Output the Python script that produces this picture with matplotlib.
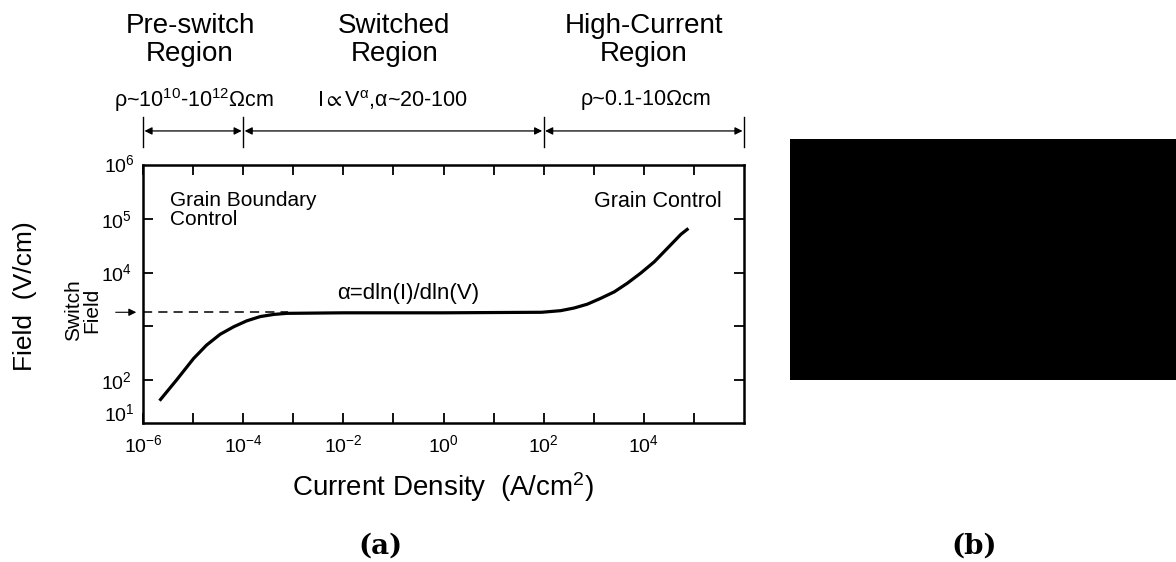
import matplotlib
matplotlib.use('Agg')
import matplotlib.pyplot as plt
import matplotlib.transforms as mtransforms
from matplotlib.patches import Rectangle
import numpy as np

plt.rcParams['font.family'] = ['Liberation Sans', 'DejaVu Sans']
plt.rcParams['mathtext.fontset'] = 'custom'
plt.rcParams['mathtext.rm'] = 'Liberation Sans'
plt.rcParams['mathtext.it'] = 'Liberation Sans:italic'
plt.rcParams['mathtext.default'] = 'regular'

# ── DATA (log10 values) ──────────────────────────────────────────────────────
curve_logx = [-5.67, -5.33, -4.99, -4.73, -4.46, -4.19, -3.93, -3.66, -3.39, -3.13,
              -2.0, 0.0, 1.96, 2.34, 2.61, 2.87, 3.14, 3.41, 3.67, 3.94,
              4.21, 4.47, 4.74, 4.89]
curve_logy = [1.615, 2.00, 2.40, 2.65, 2.85, 2.99, 3.10, 3.18, 3.22, 3.24,
              3.25, 3.25, 3.26, 3.29, 3.34, 3.41, 3.52, 3.64, 3.80, 3.99,
              4.20, 4.45, 4.71, 4.82]
switch_logy = 3.26
dash_logx = [-6.0, -3.1]

region_bounds = [-6, -4, 2, 6]
region_titles = ["Pre-switch\nRegion", "Switched\nRegion", "High-Current\nRegion"]
region_notes = [r"ρ~$10^{10}$-$10^{12}$Ωcm", r"I$\propto$$V^{α}$,α~20-100", "ρ~0.1-10Ωcm"]
region_title_x = [-5.06, -0.98, 4.0]
region_note_x = [-4.98, -1.02, 4.04]

xtick_pows = list(range(-6, 6))
xtick_labels = [r"$10^{%d}$" % p if (p % 2 == 0 and p <= 4) else "" for p in xtick_pows]
ytick_pows = [2, 3, 4, 5]
ytick_labels = [r"$10^{2}$", "", r"$10^{4}$", r"$10^{5}$"]

# ── FIGURE ───────────────────────────────────────────────────────────────────
fig = plt.figure(figsize=(11.76, 5.62), dpi=100)
ax = fig.add_axes([143/1176, 1 - 423/562, 601/1176, 258/562])

ax.plot(10**np.array(curve_logx), 10**np.array(curve_logy), color='black', lw=2.3,
        solid_capstyle='butt', solid_joinstyle='round')
ax.plot(10**np.array(dash_logx), [10**switch_logy]*2, color='black', lw=1.1,
        dashes=(6, 4))

ax.set_xscale('log')
ax.set_yscale('log')
ax.set_xlim(1e-6, 1e6)
ax.set_ylim(10**1.2, 1e6)
ax.minorticks_off()
ax.set_xticks([10.0**p for p in xtick_pows])
ax.set_xticklabels(xtick_labels, fontsize=14)
ax.set_yticks([10.0**p for p in ytick_pows])
ax.set_yticklabels(ytick_labels, fontsize=14)
ax.tick_params(which='both', direction='in', length=7, width=1.3,
               top=True, right=True, pad=8)
for s in ax.spines.values():
    s.set_linewidth(1.8)

# extra y labels at the corners
ax.text(-0.014, 1.0, r"$10^{6}$", transform=ax.transAxes, ha='right', va='center', fontsize=14)
ax.text(-0.014, 0.035, r"$10^{1}$", transform=ax.transAxes, ha='right', va='center', fontsize=14)

ax.set_xlabel("Current Density  (A/cm$^{2}$)", fontsize=20, labelpad=10)
fig.text(25/1176, 1 - 296/562, "Field  (V/cm)", rotation=90, ha='center', va='center', fontsize=19)
fig.text(83/1176, 1 - 310/562, "Switch\nField", rotation=90, ha='center', va='center',
         fontsize=15, linespacing=0.95)

# switch field arrow outside axes
ax.annotate("", xy=(10**-6.08, 10**switch_logy), xytext=(10**-6.6, 10**switch_logy),
            arrowprops=dict(arrowstyle='-|>', color='black', lw=0.8, mutation_scale=11),
            annotation_clip=False)

ax.text(0.045, 0.9, "Grain Boundary\nControl", transform=ax.transAxes, ha='left', va='top',
        fontsize=15, linespacing=1.0)
ax.text(0.963, 0.9, "Grain Control", transform=ax.transAxes, ha='right', va='top', fontsize=15.5)
ax.text(10**-0.7, 10**3.6, r"α=dln(I)/dln(V)", ha='center', va='center', fontsize=16)

# region header annotations
trans = mtransforms.blended_transform_factory(ax.transData, ax.transAxes)
for b in region_bounds:
    ax.plot([10.0**b]*2, [1.07, 1.185], transform=trans, color='black', lw=1.0, clip_on=False)
for i in range(3):
    x0, x1 = region_bounds[i], region_bounds[i+1]
    ax.annotate("", xy=(10**(x1 - 0.03), 1.132), xytext=(10**(x0 + 0.03), 1.132),
                xycoords=trans, textcoords=trans,
                arrowprops=dict(arrowstyle='<|-|>', color='black', lw=0.9, mutation_scale=11,
                                shrinkA=0, shrinkB=0),
                annotation_clip=False)
    ax.text(10**region_note_x[i], 1.252, region_notes[i], transform=trans, ha='center',
            va='center', fontsize=15.5)
    ax.text(10**region_title_x[i], 1.485, region_titles[i], transform=trans, ha='center',
            va='center', fontsize=20, linespacing=1.12)

# panel (b): black block
fig.patches.append(Rectangle((790/1176, 1 - 380/562), 386/1176, 241/562,
                             transform=fig.transFigure, facecolor='black', edgecolor='none'))

fig.text(380/1176, 1 - 546/562, "(a)", ha='center', va='center', fontsize=20,
         fontweight='bold', family=['DejaVu Serif'])
fig.text(974/1176, 1 - 546/562, "(b)", ha='center', va='center', fontsize=20,
         fontweight='bold', family=['DejaVu Serif'])

fig.savefig("out.png", dpi=100)
